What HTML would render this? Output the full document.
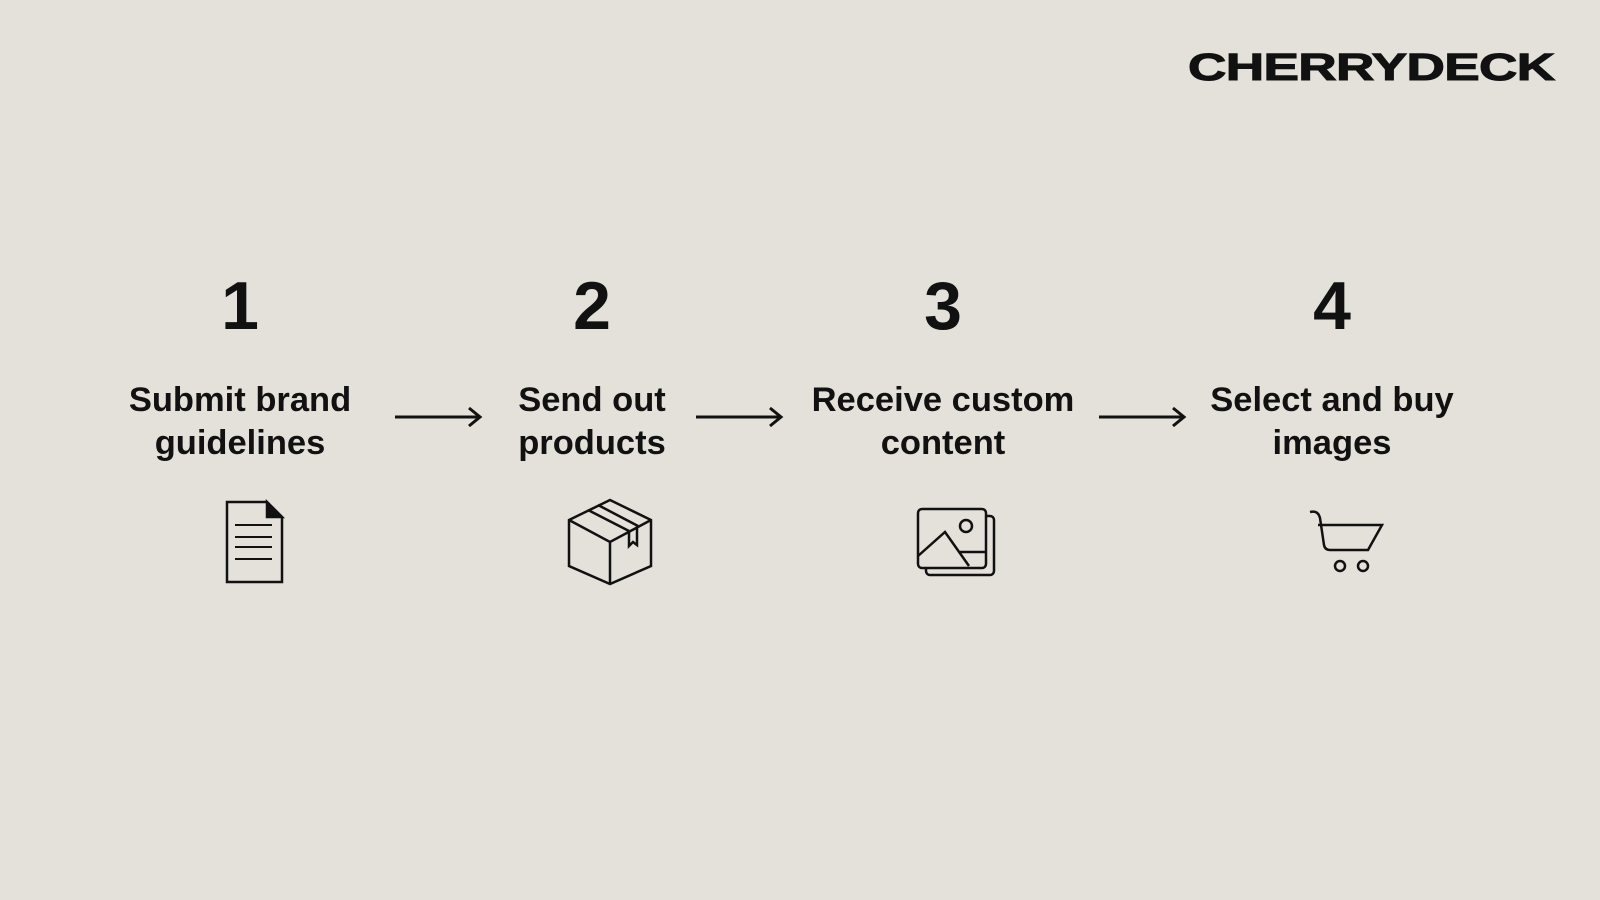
<!DOCTYPE html>
<html><head><meta charset="utf-8"><style>
html,body{margin:0;padding:0}
body{width:1600px;height:900px;background:#e3e1da;position:relative;overflow:hidden;font-family:"Liberation Sans",sans-serif;color:#111}
.logo{position:absolute;left:1188px;top:46px;font-weight:900;font-size:38px;letter-spacing:-0.5px;transform:scaleX(1.4);transform-origin:left top;line-height:44px;-webkit-text-stroke:1px #111}
.num{position:absolute;top:268px;width:300px;margin-left:-150px;text-align:center;font-size:68px;font-weight:bold;line-height:76px}
.lbl{position:absolute;top:379px;width:360px;margin-left:-180px;text-align:center;font-size:34.5px;font-weight:bold;line-height:43px;letter-spacing:0}
svg{position:absolute;left:0;top:0}
</style></head><body>
<div class="logo">CHERRYDECK</div>
<div class="num" style="left:240px">1</div>
<div class="num" style="left:592px">2</div>
<div class="num" style="left:943px">3</div>
<div class="num" style="left:1332px">4</div>
<div class="lbl" style="left:240px">Submit brand<br>guidelines</div>
<div class="lbl" style="left:592px">Send out<br>products</div>
<div class="lbl" style="left:943px">Receive custom<br>content</div>
<div class="lbl" style="left:1332px">Select and buy<br>images</div>
<svg width="1600" height="900" fill="none" stroke="#111" stroke-width="2.5">
<g stroke-width="3">
<path d="M395 417H479M469 408L480 417L469 426"/>
<path d="M696 417H780M770 408L781 417L770 426"/>
<path d="M1099 417H1183M1173 408L1184 417L1173 426"/>
</g>
<path d="M227 502H267L282 517V582H227Z"/>
<path d="M267 502V517H282Z" fill="#111"/>
<path d="M235 525H272M235 537H272M235 547H272M235 559H272" stroke-width="2"/>
<path d="M610 500L651 520V566L610 584L569 566V520Z"/>
<path d="M569 520L610 542L651 520M610 542V584"/>
<path d="M588 510L629 531M598 505L638 526M629 531V546L633 542L637 545V527"/>
<rect x="926" y="516" width="68" height="59" rx="4"/>
<rect x="918" y="509" width="68" height="59" rx="4" fill="#e3e1da"/>
<circle cx="966" cy="526" r="6"/>
<path d="M918 556L945 532L969 566M960 552H986"/>
<path d="M1310 512Q1318 510 1320 518L1324 545Q1325 550 1330 550H1368L1382 525H1318"/>
<circle cx="1340" cy="566" r="5"/><circle cx="1363" cy="566" r="5"/>
</svg>
</body></html>
